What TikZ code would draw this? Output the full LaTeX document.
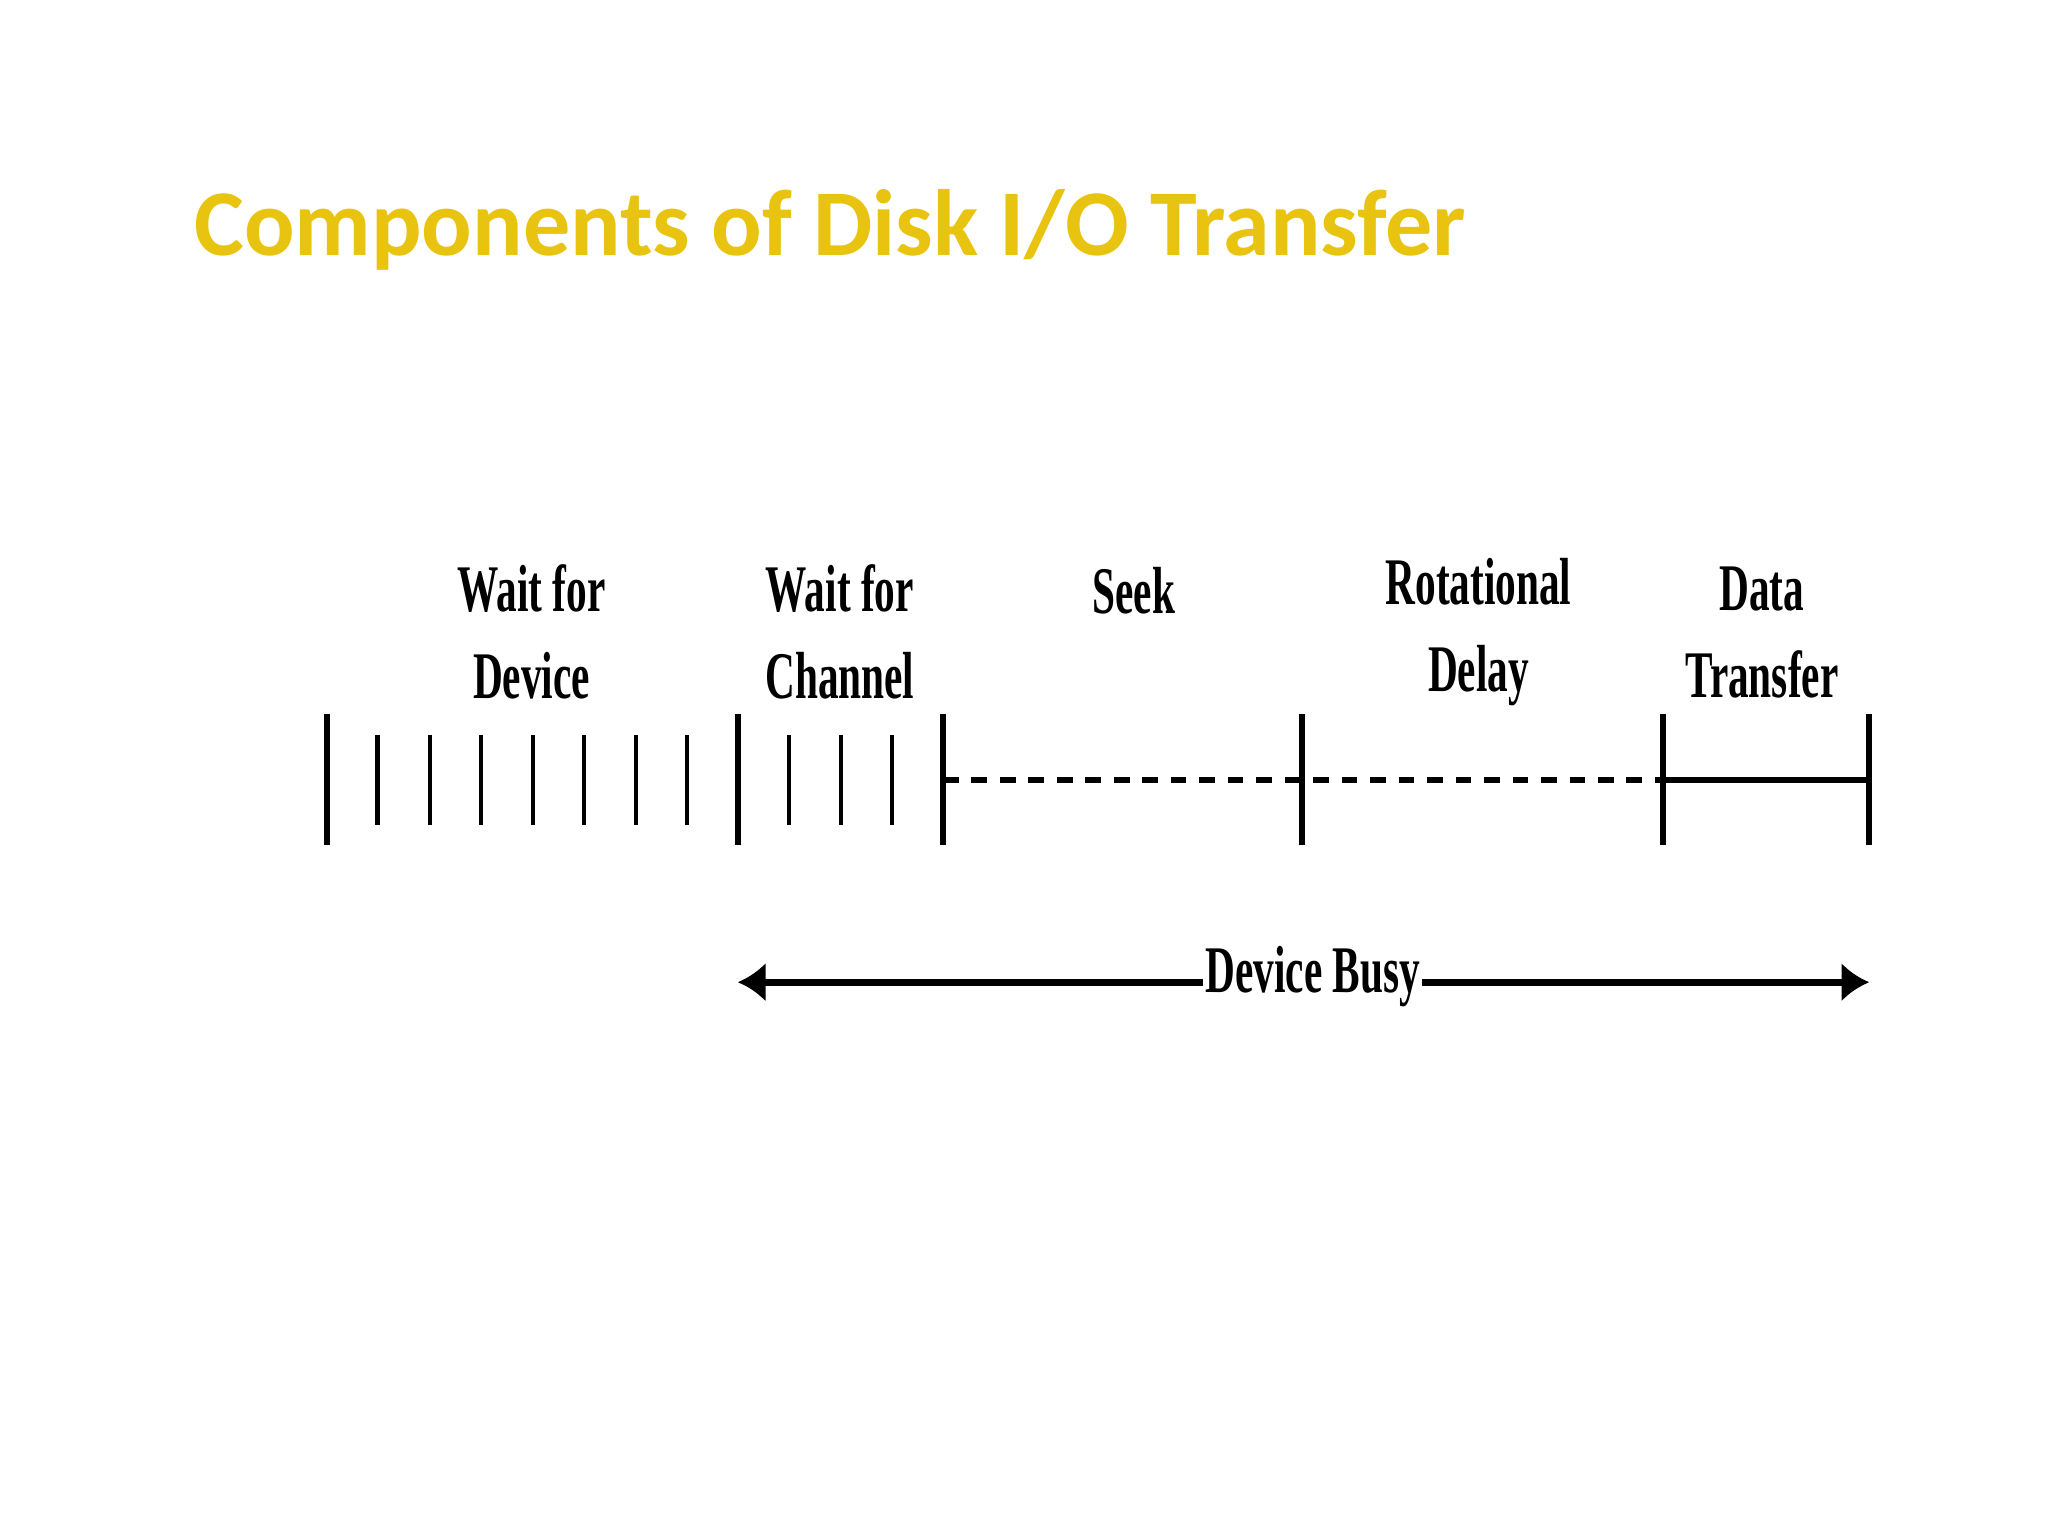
\documentclass[tikz,border=0pt]{standalone}
\usepackage{fontspec}
\setmainfont{Liberation Serif}
\newfontfamily\titlefont{Carlito}
\usetikzlibrary{arrows.meta}
\definecolor{gold}{HTML}{E8C410}
\tikzset{
  lbl/.style={font=\fontsize{14.5}{17}\selectfont\bfseries, xscale=0.62, align=center, inner sep=0pt},
  tall/.style={line width=1.3pt},
  short/.style={line width=0.9pt},
  busy/.style={line width=1.6pt, -{Latex[length=6pt,width=8.5pt]}},
}
\begin{document}
\begin{tikzpicture}[x=0.01cm,y=-0.01cm]
\useasboundingbox (0,0) rectangle (1568,1176);
\node[anchor=base west, text=gold, font=\titlefont\fontsize{20.5}{24}\selectfont\bfseries, inner sep=0pt] (title) at (148,196) {Components of Disk I/O Transfer};
% labels
\node[lbl] (l1) at (407,484) {Wait for\\[2pt]Device};
\node[lbl] (l2) at (643,484) {Wait for\\[2pt]Channel};
\node[lbl] (l3) at (868,452) {Seek};
\node[lbl] (l4) at (1132,484) {Rotational\\[2pt]Delay};
\node[lbl] (l5) at (1349,484) {Data\\[2pt]Transfer};
% tall ticks
\foreach \x/\n in {250/a,565/b,722/c,997/d,1273/e,1431/f} {
  \coordinate (\n t) at (\x,547); \coordinate (\n b) at (\x,647); \coordinate (\n m) at (\x,597);
  \draw[tall] (\n t) -- (\n b);
}
\foreach \x in {289,329,368,408,447,487,526,604,644,683}
  \draw[short] (\x,563) -- (\x,632);
\draw[line width=1.4pt, dash pattern=on 3.4pt off 2.8pt] (cm) -- (em);
\draw[line width=1.4pt] (em) -- (fm);
% device busy
\coordinate (s) at (565,752); \coordinate (t) at (1431,752);
\coordinate (bl) at (921,752); \coordinate (br) at (1089,752);
\node[lbl] (db) at (1005,748) {Device Busy};
\draw[busy] (bl) -- (s);
\draw[busy] (br) -- (t);
\end{tikzpicture}
\end{document}
